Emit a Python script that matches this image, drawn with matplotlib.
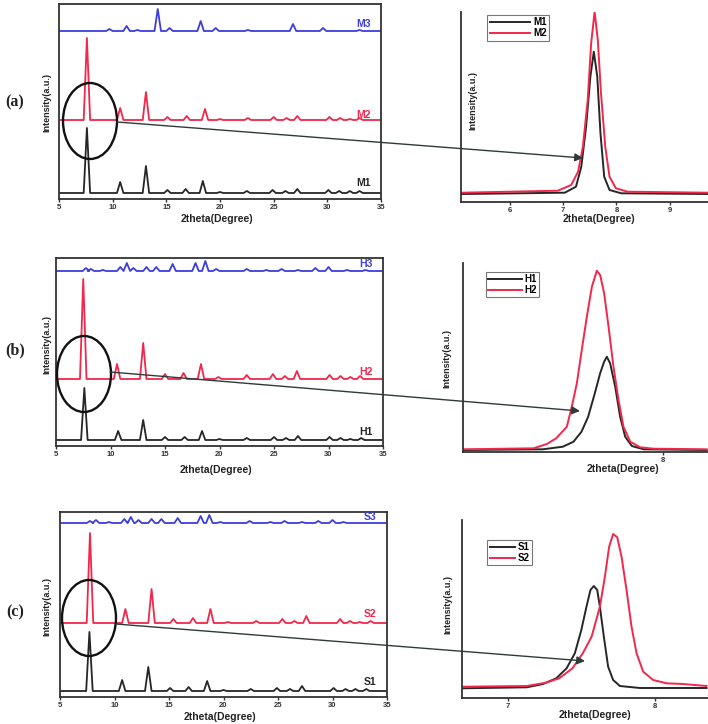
"""
plot.py - XRD patterns (M, H, S series) with zoomed views of the first peak.
"""
import matplotlib
matplotlib.use("Agg")
import matplotlib.pyplot as plt
from matplotlib.patches import Ellipse

plt.rcParams["font.family"] = ["Liberation Sans", "DejaVu Sans"]
plt.rcParams["font.weight"] = "bold"

W, H = 708, 724
BLACK = "#262626"
RED = "#f2274a"
BLUE = "#3d3dde"
FRAME = "#333333"

# ---------------------------------------------------------------------------
# Data: peak positions (2theta) and peak heights (a.u.) for the wide scans
# ---------------------------------------------------------------------------
M1_pos = [7.6, 10.7, 13.1, 15.1, 16.8, 18.4, 20.0, 22.5, 24.9, 26.1, 27.2, 30.1, 31.1, 32.1, 33.0]
M1_int = [65, 11, 27, 3, 4, 12, 1, 2, 3, 2, 4, 3, 2, 2, 2]
M2_pos = [7.6, 10.7, 13.1, 15.1, 16.9, 18.6, 20.0, 22.6, 25.0, 26.2, 27.2, 30.2, 31.2, 32.1, 33.0]
M2_int = [82, 12, 28, 3, 4, 11, 1, 2, 3, 2, 4, 3, 2, 1, 2]
M3_pos = [9.7, 11.3, 12.3, 14.2, 15.3, 18.2, 19.6, 22.6, 26.8, 29.6, 33.0]
M3_int = [2, 5, 1, 22, 3, 10, 3, 1, 7, 3, 1]

H1_pos = [7.6, 10.7, 13.0, 15.0, 16.8, 18.4, 20.0, 22.5, 25.0, 26.1, 27.2, 30.1, 31.1, 32.0, 33.0]
H1_int = [52, 9, 20, 3, 3, 9, 1, 2, 3, 2, 4, 3, 2, 1, 2]
H2_pos = [7.5, 10.6, 13.0, 15.0, 16.7, 18.3, 19.9, 22.5, 24.9, 26.0, 27.1, 30.1, 31.1, 32.0, 32.9]
H2_int = [100, 15, 36, 5, 6, 15, 2, 4, 5, 3, 8, 4, 3, 2, 3]
H3_pos = [7.75, 8.2, 9.3, 10.9, 11.5, 12.1, 13.3, 14.2, 15.7, 17.8, 18.7, 19.7, 22.5, 24.3,
          25.7, 27.2, 28.8, 30.0, 31.7, 33.4]
H3_int = [3, 2, 1, 4, 8, 3, 4, 4, 7, 8, 10, 2, 2, 1, 2, 1, 3, 4, 1, 1]

S1_pos = [7.7, 10.7, 13.1, 15.1, 16.8, 18.5, 20.0, 22.5, 24.9, 26.1, 27.2, 30.1, 31.2, 32.1, 33.1]
S1_int = [59, 11, 24, 3, 4, 10, 1, 2, 3, 2, 5, 3, 2, 2, 2]
S2_pos = [7.75, 11.0, 13.4, 15.4, 17.2, 18.8, 20.4, 23.0, 25.4, 26.5, 27.6, 30.7, 31.6, 32.5, 33.5]
S2_int = [90, 14, 34, 4, 5, 14, 1, 2, 4, 2, 7, 4, 2, 1, 2]
S3_pos = [7.75, 8.3, 9.5, 10.9, 11.5, 12.2, 13.4, 14.3, 15.8, 17.9, 18.7, 19.7, 22.4, 24.3,
          25.6, 27.2, 28.7, 30.0, 31.0]
S3_int = [2, 3, 1, 4, 6, 3, 4, 4, 5, 7, 8, 1, 2, 1, 2, 1, 2, 3, 1]

# stacking offsets of the three patterns in each wide panel
OFFSETS_M = [6, 79, 168]
OFFSETS_H = [6, 67, 175]
OFFSETS_S = [6, 74, 174]

# ---------------------------------------------------------------------------
# Data: zoomed first reflection (2theta, intensity)
# ---------------------------------------------------------------------------
zM1_x = [5.10, 7.03, 7.24, 7.34, 7.43, 7.51, 7.575, 7.64, 7.70, 7.77, 7.87, 8.09, 9.71]
zM1_y = [8.0, 9.3, 15.3, 35.3, 75.3, 125.3, 150.3, 125.3, 68.7, 25.3, 12.0, 8.7, 8.0]
zM2_x = [5.10, 6.90, 7.15, 7.28, 7.37, 7.46, 7.525, 7.59, 7.65, 7.71, 7.79, 7.87, 7.99, 8.21, 9.71]
zM2_y = [9.3, 11.3, 17.0, 30.3, 55.3, 102.0, 158.7, 190.3, 162.0, 108.7, 55.3, 25.3, 13.7, 10.3, 9.3]

zH1_x = [6.50, 7.10, 7.25, 7.33, 7.39, 7.44, 7.49, 7.53, 7.56, 7.58, 7.605, 7.643, 7.68, 7.718,
         7.768, 7.856, 8.33]
zH1_y = [2.0, 2.7, 5.3, 10.3, 20.3, 35.3, 58.7, 78.7, 90.3, 95.3, 88.7, 65.3, 35.3, 15.3, 6.0, 2.7, 2.0]
zH2_x = [6.50, 7.03, 7.13, 7.20, 7.28, 7.317, 7.355, 7.392, 7.43, 7.468, 7.505, 7.53, 7.56, 7.593,
         7.63, 7.668, 7.705, 7.756, 7.831, 7.931, 8.33]
zH2_y = [2.7, 3.7, 8.0, 13.7, 25.3, 45.3, 68.7, 102.0, 135.3, 165.3, 181.3, 177.0, 158.7, 125.3,
         85.3, 52.0, 25.3, 10.3, 4.7, 3.3, 2.7]

zS1_x = [6.69, 7.13, 7.24, 7.33, 7.40, 7.456, 7.50, 7.535, 7.562, 7.585, 7.608, 7.626, 7.653,
         7.682, 7.716, 7.762, 7.898, 8.35]
zS1_y = [9.7, 10.7, 14.0, 19.7, 29.7, 44.7, 68.0, 91.3, 108.0, 112.0, 108.0, 91.3, 61.3, 31.3,
         18.0, 12.0, 10.0, 10.0]
zS2_x = [6.69, 7.13, 7.26, 7.35, 7.44, 7.51, 7.57, 7.626, 7.66, 7.689, 7.716, 7.744, 7.773, 7.807,
         7.841, 7.875, 7.92, 7.988, 8.08, 8.19, 8.35]
zS2_y = [11.3, 12.0, 15.3, 19.7, 29.7, 44.7, 61.3, 91.3, 121.3, 151.3, 164.0, 160.7, 141.3, 108.0,
         71.3, 44.7, 26.3, 18.0, 14.7, 14.0, 12.0]

PEAK_HW = 0.3  # half width of the drawn reflections (degrees)


def pattern_xy(pos, inten, offset, x_min=5.0, x_max=35.0):
    xs, ys = [x_min], [offset]
    for p, h in zip(pos, inten):
        xs += [p - PEAK_HW, p, p + PEAK_HW]
        ys += [offset, offset + h, offset]
    xs.append(x_max)
    ys.append(offset)
    return xs, ys


def pixel_axes(fig, x0, y0, x1, y1):
    return fig.add_axes([x0 / W, 1 - y1 / H, (x1 - x0) / W, (y1 - y0) / H])


def wide_panel(fig, box, series, offsets, names, label_dy, ylim_top):
    ax = pixel_axes(fig, *box)
    colors = [BLACK, RED, BLUE]
    for (pos, inten), off, c, name, dy in zip(series, offsets, colors, names, label_dy):
        xs, ys = pattern_xy(pos, inten, off)
        ax.plot(xs, ys, color=c, lw=1.3, solid_joinstyle="round")
        ax.text(33.4, off + dy, name, color=c, fontsize=7.5, fontweight="bold",
                ha="center", va="center")
    ax.set_xlim(5, 35)
    ax.set_ylim(0, ylim_top)
    ax.set_xticks([5, 10, 15, 20, 25, 30, 35])
    ax.set_yticks([])
    ax.tick_params(axis="x", labelsize=5.5, length=2, width=1, pad=1.5, colors=FRAME)
    for s in ax.spines.values():
        s.set_color(FRAME)
        s.set_linewidth(1.3)
    return ax


def zoom_panel(fig, box, curves, names, xlim, ylim_top, ticks, leg_anchor, handlelen):
    ax = pixel_axes(fig, *box)
    for (x, y), c, name in zip(curves, [BLACK, RED], names):
        ax.plot(x, y, color=c, lw=1.4, label=name, solid_joinstyle="round")
    ax.set_xlim(*xlim)
    ax.set_ylim(0, ylim_top)
    ax.set_xticks(ticks)
    ax.set_yticks([])
    ax.tick_params(axis="x", labelsize=5.5, length=2, width=1, pad=1.5, colors=FRAME)
    ax.spines["top"].set_visible(False)
    ax.spines["right"].set_visible(False)
    for k in ("left", "bottom"):
        ax.spines[k].set_color(FRAME)
        ax.spines[k].set_linewidth(1.3)
    leg = ax.legend(loc="upper left", bbox_to_anchor=leg_anchor, fontsize=7,
                    handlelength=handlelen, handletextpad=0.3, borderpad=0.25,
                    labelspacing=0.1, fancybox=False, frameon=True, borderaxespad=0)
    leg.get_frame().set_edgecolor("#555555")
    leg.get_frame().set_linewidth(0.8)
    return ax


fig = plt.figure(figsize=(W / 100, H / 100), dpi=100)

# ---------------------------------------------------------------------------
# Wide scans
# ---------------------------------------------------------------------------
wide_panel(fig, (59, 4, 381, 199),
           [(M1_pos, M1_int), (M2_pos, M2_int), (M3_pos, M3_int)],
           OFFSETS_M, ["M1", "M2", "M3"], [10, 5, 7], 195)
wide_panel(fig, (56, 258, 383, 446),
           [(H1_pos, H1_int), (H2_pos, H2_int), (H3_pos, H3_int)],
           OFFSETS_H, ["H1", "H2", "H3"], [8, 7, 7], 188)
wide_panel(fig, (60, 512, 387, 697),
           [(S1_pos, S1_int), (S2_pos, S2_int), (S3_pos, S3_int)],
           OFFSETS_S, ["S1", "S2", "S3"], [9, 9, 6], 185)

# ---------------------------------------------------------------------------
# Zoomed first reflection
# ---------------------------------------------------------------------------
zoom_panel(fig, (461, 12, 708, 202), [(zM1_x, zM1_y), (zM2_x, zM2_y)], ["M1", "M2"],
           (5.08, 9.72), 190, [6, 7, 8, 9], (0.106, 0.985), 4.2)
zoom_panel(fig, (463, 263, 708, 452), [(zH1_x, zH1_y), (zH2_x, zH2_y)], ["H1", "H2"],
           (6.5, 8.34), 189, [8], (0.094, 0.955), 3.4)
zoom_panel(fig, (462, 520, 708, 698), [(zS1_x, zS1_y), (zS2_x, zS2_y)], ["S1", "S2"],
           (6.69, 8.36), 178, [7, 8], (0.102, 0.89), 2.6)

# ---------------------------------------------------------------------------
# Overlay: panel letters, axis titles, ellipses and arrows (pixel coordinates)
# ---------------------------------------------------------------------------
ov = fig.add_axes([0, 0, 1, 1])
ov.set_xlim(0, W)
ov.set_ylim(H, 0)
ov.axis("off")
ov.patch.set_alpha(0)

for letter, y in zip(["(a)", "(b)", "(c)"], [102, 350, 612]):
    ov.text(15, y, letter, family="Liberation Serif", fontweight="bold", fontsize=11.5,
            ha="center", va="center", color="#222222")

for x, y in [(47, 102), (47, 345), (47, 606), (473, 101), (447, 359), (448, 605)]:
    ov.text(x, y, "Intensity(a.u.)", rotation=90, fontsize=6.5, fontweight="bold",
            ha="center", va="center", color="#222222")

for x, y in [(217, 219), (599, 219), (216, 470), (623, 469), (220, 717), (595, 715)]:
    ov.text(x, y, "2theta(Degree)", fontsize=7.5, fontweight="bold",
            ha="center", va="center", color="#222222")

for (cx, cy), (x_tip, y_tip), (x_start, y_start) in zip(
        [(90, 121), (84, 374), (89, 618)],
        [(583, 158), (580, 411), (585, 661)],
        [(117, 122), (110, 372), (116, 624)]):
    ov.add_patch(Ellipse((cx, cy), 54, 76, fill=False, lw=1.7, color="#111111"))
    ov.annotate("", xy=(x_tip, y_tip), xytext=(x_start, y_start),
                arrowprops=dict(arrowstyle="-|>", color="#2f3a3a", lw=1.0,
                                mutation_scale=12, shrinkA=0, shrinkB=0))

fig.savefig("out.png", dpi=100)
